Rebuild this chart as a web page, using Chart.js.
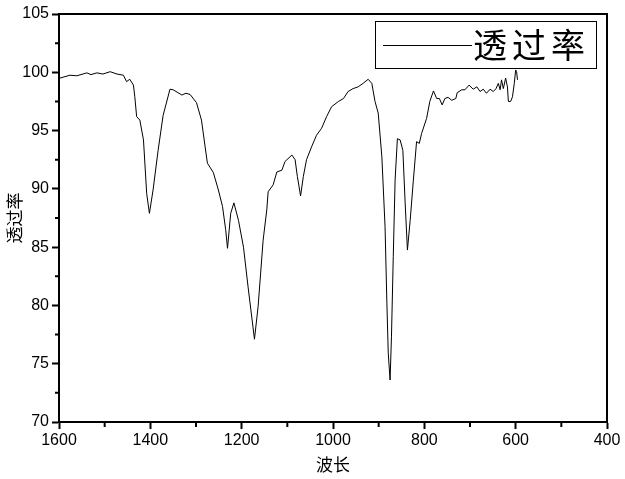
<!DOCTYPE html>
<html>
<head>
<meta charset="utf-8">
<script src="https://cdn.jsdelivr.net/npm/chart.js@4"></script>
<style>
  html, body { margin: 0; padding: 0; background: #fff; }
  #wrap { width: 625px; height: 479px; }
</style>
</head>
<body>
<div id="wrap"><canvas id="grafica"></canvas></div>
<script>
// dades llegides de la imatge (nombre d'ona, transmitancia)
const ones = [1598, 1576, 1561, 1539, 1530, 1517, 1504, 1488, 1473, 1459, 1452, 1445, 1437, 1434, 1430,
  1423, 1415, 1408, 1402, 1394, 1383, 1372, 1357, 1350, 1331, 1322, 1313, 1299, 1288, 1280, 1275,
  1262, 1251, 1242, 1235, 1231, 1224, 1217, 1207, 1196, 1186, 1172, 1164, 1153, 1145, 1142, 1131,
  1123, 1112, 1105, 1090, 1083, 1078, 1071, 1065, 1058, 1047, 1036, 1025, 1014, 1003, 988, 977,
  967, 956, 945, 934, 923, 915, 908, 901, 893, 886, 882, 879, 875, 872, 868, 864, 859, 853, 847,
  842, 837, 831, 824, 817, 811, 806, 795, 788, 780, 773, 767, 761, 755, 748, 740, 731, 728, 718,
  711, 702, 693, 685, 678, 671, 664, 656, 649, 643, 638, 634, 631, 627, 622, 618, 616, 611, 607,
  603, 600, 598, 596];
const transmitancia = [99.5, 99.75, 99.7, 99.95, 99.8, 99.95, 99.85, 100.05, 99.85, 99.75, 99.2, 99.4, 98.9, 97.9, 96.2,
  95.9, 94.2, 89.6, 87.9, 89.9, 93.3, 96.3, 98.55, 98.5, 98.05, 98.2, 98.1, 97.4, 95.9, 93.6, 92.2,
  91.4, 89.9, 88.5, 86.5, 84.9, 87.9, 88.8, 87.3, 85.0, 81.6, 77.1, 79.9, 85.6, 88.2, 89.75, 90.35,
  91.45, 91.6, 92.35, 92.9, 92.5, 91.05, 89.4, 91.05, 92.5, 93.6, 94.6, 95.2, 96.2, 97.05, 97.5, 97.75,
  98.35, 98.6, 98.75, 99.05, 99.4, 99.05, 97.5, 96.5, 92.75, 86.75, 80.2, 75.9, 73.6, 77.3, 84.2, 90.75, 94.3, 94.2, 93.3,
  88.8, 84.75, 87.3, 90.75, 94.05, 93.9, 94.75, 96.05, 97.5, 98.4, 97.75, 97.75, 97.2, 97.75, 97.85, 97.6, 97.75, 98.25, 98.5,
  98.5, 98.9, 98.55, 98.75, 98.35, 98.55, 98.2, 98.55, 98.35, 98.6, 99.05, 98.5, 99.35, 98.6, 99.5, 98.75, 97.5, 97.5, 97.9,
  99.05, 100.2, 100.05, 99.35];

const ticksX = [400, 600, 800, 1000, 1200, 1400, 1600];
const ticksY = [70, 75, 80, 85, 90, 95, 100, 105];
const titolX = '波长';
const titolY = '透过率';
const nomSerie = '透过率';

const fontTicks = { family: 'Liberation Sans, Arial, sans-serif', size: 16 };
const fontTitol = { family: 'Noto Sans CJK SC, sans-serif', size: 17 };

// marc, ticks menors i llegenda dibuixats amb les escales de Chart.js
const marcPlugin = {
  id: 'marc',
  afterDraw(chart) {
    const { ctx, chartArea: a, scales } = chart;
    ctx.save();
    ctx.strokeStyle = '#000';
    ctx.lineWidth = 2;
    ctx.strokeRect(a.left, a.top, a.right - a.left, a.bottom - a.top);
    ctx.beginPath();
    for (let v = 500; v < 1600; v += 200) {
      const px = scales.x.getPixelForValue(v);
      ctx.moveTo(px, a.bottom); ctx.lineTo(px, a.bottom + 5);
    }
    for (let v = 72.5; v < 105; v += 5) {
      const py = scales.y.getPixelForValue(v);
      ctx.moveTo(a.left, py); ctx.lineTo(a.left - 4, py);
    }
    ctx.stroke();
    ctx.restore();
  },
  afterDatasetsDraw(chart) {
    const { ctx, chartArea: a } = chart;
    const x0 = a.right - 232, y0 = a.top + 7, w = 221, h = 47;
    ctx.save();
    ctx.fillStyle = '#fff';
    ctx.fillRect(x0, y0, w, h);
    ctx.strokeStyle = '#000';
    ctx.lineWidth = 1;
    ctx.strokeRect(x0 + 0.5, y0 + 0.5, w, h);
    ctx.beginPath();
    ctx.moveTo(x0 + 8, y0 + 24.5); ctx.lineTo(x0 + 97, y0 + 24.5);
    ctx.stroke();
    ctx.fillStyle = '#000';
    ctx.font = '34px "Noto Sans CJK SC", sans-serif';
    ctx.textBaseline = 'middle';
    ctx.textAlign = 'left';
    const chars = [...nomSerie];
    chars.forEach((c, i) => ctx.fillText(c, x0 + 98 + i * 39, y0 + 24));
    ctx.restore();
  }
};

const dades = ones.map((x, i) => ({ x: x, y: transmitancia[i] }));

new Chart(document.getElementById('grafica'), {
  type: 'scatter',
  data: { datasets: [{ label: nomSerie, data: dades, showLine: true, borderColor: '#000', borderWidth: 1, pointRadius: 0, fill: false, tension: 0 }] },
  options: {
    responsive: true, maintainAspectRatio: false, animation: false,
    layout: { padding: { top: 14, right: 18, left: 0, bottom: 0 } },
    plugins: { legend: { display: false }, tooltip: { enabled: false } },
    scales: {
      x: {
        type: 'linear', reverse: true, min: 400, max: 1600,
        afterBuildTicks: (s) => { s.ticks = ticksX.map(v => ({ value: v })); },
        afterFit: (s) => { s.height = 57; },
        ticks: { color: '#000', font: fontTicks, padding: 2, maxRotation: 0, callback: (v) => String(v) },
        grid: { drawOnChartArea: false, tickLength: 7, tickColor: '#000', tickWidth: 2 },
        border: { display: true, color: '#000', width: 2 },
        title: { display: true, text: titolX, color: '#000', font: fontTitol, padding: { top: 0, bottom: 4 } }
      },
      y: {
        type: 'linear', min: 70, max: 105,
        afterBuildTicks: (s) => { s.ticks = ticksY.map(v => ({ value: v })); },
        afterFit: (s) => { s.width = 59; },
        ticks: { color: '#000', font: fontTicks, padding: 3, callback: (v) => String(v) },
        grid: { drawOnChartArea: false, tickLength: 7, tickColor: '#000', tickWidth: 2 },
        border: { display: true, color: '#000', width: 2 },
        title: { display: true, text: titolY, color: '#000', font: fontTitol, padding: { top: 4, bottom: 0 } }
      }
    }
  },
  plugins: [marcPlugin]
});
</script>
</body>
</html>
